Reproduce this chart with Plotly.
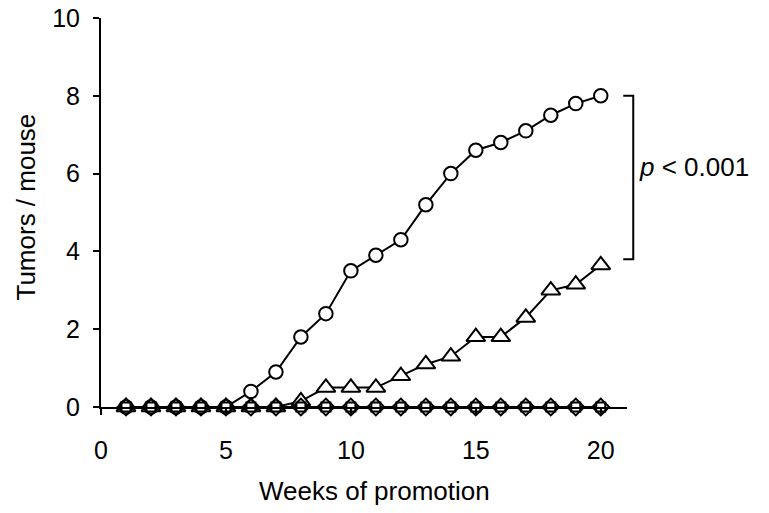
import plotly.graph_objects as go

weeks = list(range(1, 21))
circles = [0, 0, 0, 0, 0, 0.4, 0.9, 1.8, 2.4, 3.5, 3.9, 4.3, 5.2, 6.0, 6.6, 6.8, 7.1, 7.5, 7.8, 8.0]
triangles = [0, 0, 0, 0, 0, 0, 0, 0.15, 0.5, 0.5, 0.5, 0.8, 1.1, 1.3, 1.8, 1.8, 2.3, 3.0, 3.15, 3.65]
zeros_a = [0] * 20
zeros_b = [0] * 20
x_ticks = [0, 5, 10, 15, 20]
y_ticks = [0, 2, 4, 6, 8, 10]
bracket_top = 8.0
bracket_bottom = 3.8
p_label = "<i>p</i> < 0.001"
x_title = "Weeks of promotion"
y_title = "Tumors / mouse"

FONT = "Liberation Sans, Arial, Helvetica, sans-serif"

FW, FH = 769, 513
X0 = 100.5          # page x of x=0
X_END = 21.05
PX_PER_X = 25.0
PLOT_W = X_END * PX_PER_X
Y10 = 18.3
Y0 = 406.7
PLOT_H = Y0 - Y10

def pxx(xp):
    return (xp - X0) / PLOT_W

def pxy(yp):
    return (Y0 - yp) / PLOT_H

fig = go.Figure()
fig.add_trace(go.Scatter(
    x=weeks, y=circles, mode="lines+markers", cliponaxis=False,
    line=dict(color="black", width=2),
    marker=dict(symbol="circle", size=13.5, color="white", line=dict(color="black", width=2)),
))
fig.add_trace(go.Scatter(
    x=weeks, y=triangles, mode="lines+markers", cliponaxis=False,
    line=dict(color="black", width=2),
    marker=dict(symbol="triangle-up", size=16.5, color="white", line=dict(color="black", width=2)),
))
fig.add_trace(go.Scatter(
    x=weeks, y=zeros_a, mode="lines+markers", cliponaxis=False,
    line=dict(color="black", width=2),
    marker=dict(symbol="square", size=9, color="white", line=dict(color="black", width=2)),
))
fig.add_trace(go.Scatter(
    x=weeks, y=zeros_b, mode="markers", cliponaxis=False,
    marker=dict(symbol="diamond", size=13, color="rgba(0,0,0,0)", line=dict(color="black", width=2)),
))

fig.add_shape(type="path", xref="paper", yref="paper",
              path=(f"M {pxx(623)} {bracket_top/10} L {pxx(633)} {bracket_top/10} "
                    f"L {pxx(633)} {bracket_bottom/10} L {pxx(623)} {bracket_bottom/10}"),
              line=dict(color="black", width=2))
fig.add_annotation(xref="paper", yref="paper", x=pxx(637), y=pxy(167),
                   xanchor="left", yanchor="middle", text=p_label, showarrow=False,
                   font=dict(family=FONT, size=26, color="black"))
fig.add_annotation(xref="paper", yref="paper", x=pxx(374), y=pxy(491),
                   xanchor="center", yanchor="middle", text=x_title, showarrow=False,
                   font=dict(family=FONT, size=26, color="black"))
fig.add_annotation(xref="paper", yref="paper", x=pxx(25), y=pxy(207),
                   xanchor="center", yanchor="middle", text=y_title, showarrow=False,
                   textangle=-90, font=dict(family=FONT, size=26, color="black"))

fig.update_layout(
    width=FW, height=FH,
    margin=dict(l=X0, r=FW - X0 - PLOT_W, t=Y10, b=FH - Y0, autoexpand=False),
    paper_bgcolor="white", plot_bgcolor="white",
    showlegend=False,
    font=dict(family=FONT, size=25, color="black"),
)
fig.update_xaxes(
    range=[0, X_END], tickvals=x_ticks, showgrid=False, zeroline=False,
    showline=True, linecolor="black", linewidth=2,
    ticks="outside", ticklen=6, tickwidth=2, tickcolor="black",
    ticklabelstandoff=14,
)
fig.update_yaxes(
    range=[0, 10], tickvals=y_ticks, showgrid=False, zeroline=False,
    showline=True, linecolor="black", linewidth=2,
    ticks="outside", ticklen=6, tickwidth=2, tickcolor="black",
    ticklabelstandoff=8,
)

fig.write_html("out.html", config={"displayModeBar": False},
               post_script="document.body.style.margin='0px';")
